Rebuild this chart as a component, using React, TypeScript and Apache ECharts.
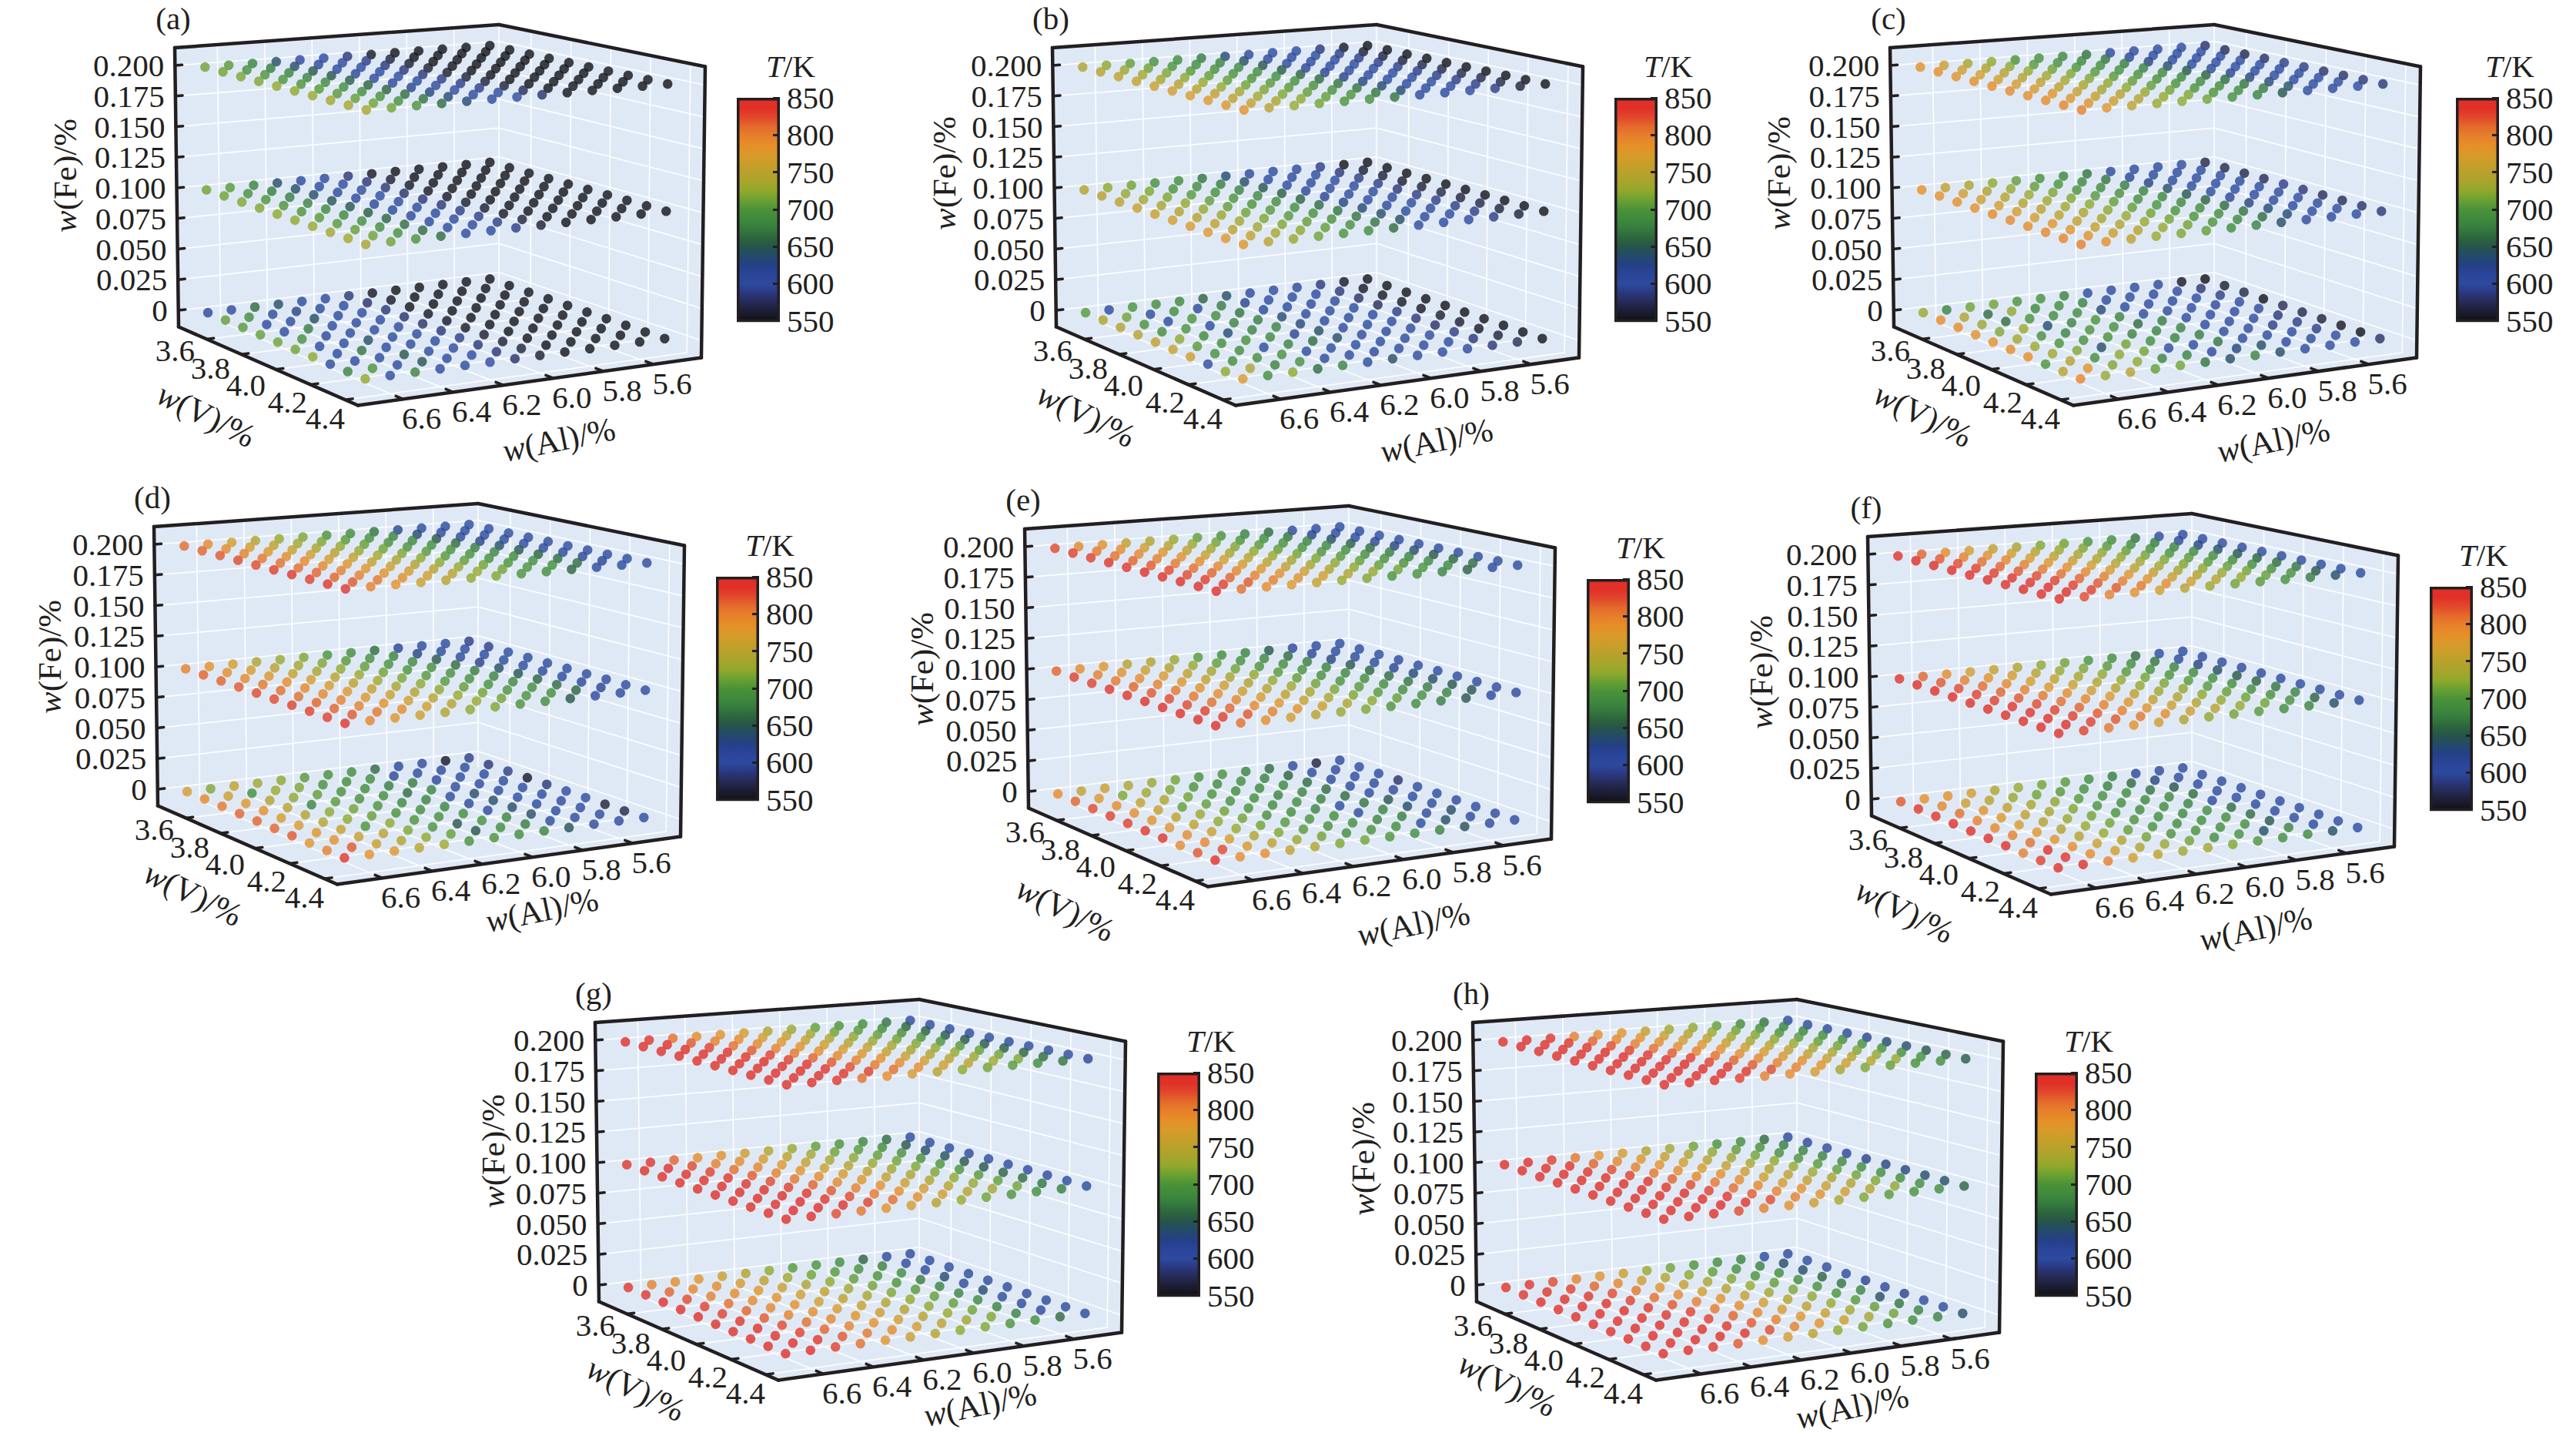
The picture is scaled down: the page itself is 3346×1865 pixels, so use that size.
import React, { useEffect, useRef } from "react";
import * as echarts from "echarts";

const alValues = [6.7, 6.6, 6.5, 6.4, 6.3, 6.2, 6.1, 6.0, 5.9, 5.8, 5.7, 5.6, 5.5];
const vValues = [3.5, 3.6, 3.7, 3.8, 3.9, 4.0, 4.1, 4.2, 4.3, 4.4];
const feLevels = [0, 0.1, 0.2];
const alTicks = [6.6, 6.4, 6.2, 6.0, 5.8, 5.6];
const vTicks = [3.6, 3.8, 4.0, 4.2, 4.4];
const feTicks = [0, 0.025, 0.05, 0.075, 0.1, 0.125, 0.15, 0.175, 0.2];
const feTickLabels = ["0", "0.025", "0.050", "0.075", "0.100", "0.125", "0.150", "0.175", "0.200"];
const panelNames = ["(a)", "(b)", "(c)", "(d)", "(e)", "(f)", "(g)", "(h)"];

// Rows run over V = 3.5 ... 4.4, columns over Al = 6.7 ... 5.5; values are T in K.
const a000 = [
[610,605,665,640,610,605,585,555,550,550,550,550,550],
[710,690,605,630,610,600,580,555,550,550,550,550,550],
[705,605,605,640,605,600,585,550,550,550,550,550,550],
[710,605,675,605,605,605,580,555,550,550,550,550,550],
[715,695,610,605,600,605,580,555,550,550,550,550,550],
[715,605,605,640,605,600,585,555,550,550,550,550,550],
[725,605,670,605,605,600,590,560,550,550,550,550,550],
[605,605,605,650,605,600,585,560,550,550,550,550,550],
[680,700,605,650,605,600,585,565,550,550,550,550,550],
[725,605,680,605,605,600,580,560,550,550,550,550,550]];
const a010 = [
[715,705,680,640,605,605,585,555,550,550,550,550,550],
[715,695,675,640,605,600,585,560,550,550,550,550,550],
[720,700,675,640,605,600,585,555,550,550,550,550,550],
[720,700,680,645,610,600,580,555,550,550,550,550,550],
[725,700,685,650,610,605,585,555,550,550,550,550,550],
[725,705,685,655,610,605,585,560,550,550,550,550,550],
[730,705,690,660,610,605,590,560,550,550,550,550,550],
[735,710,690,665,610,605,590,555,550,550,550,550,550],
[735,715,695,665,605,605,590,565,550,550,550,550,550],
[740,715,700,665,605,605,590,560,550,550,550,550,550]];
const a020 = [
[715,705,680,640,610,605,585,555,550,550,550,550,550],
[715,695,675,640,610,605,590,565,550,550,550,550,550],
[720,700,680,650,610,605,585,560,550,550,550,550,550],
[720,700,680,650,610,605,585,560,550,550,550,550,550],
[725,700,685,655,610,605,585,560,550,550,550,550,550],
[725,705,690,660,610,605,590,565,550,550,550,550,550],
[730,705,690,660,620,605,590,565,550,550,550,550,550],
[735,710,695,665,630,605,590,565,550,550,550,550,550],
[735,715,695,670,635,605,600,575,550,550,550,550,550],
[740,715,700,665,635,605,600,580,550,550,550,550,550]];
const b000 = [
[705,605,700,690,685,660,640,610,605,605,585,555,550],
[740,715,605,690,610,675,620,605,600,605,585,555,550],
[745,695,605,700,690,670,610,605,605,605,580,555,550],
[750,690,700,605,680,675,635,605,600,605,575,555,550],
[755,725,685,635,680,680,635,605,605,605,590,555,550],
[760,705,690,695,685,620,640,605,605,605,585,560,550],
[765,695,690,605,680,665,640,605,605,605,580,560,550],
[605,690,690,695,605,605,605,605,605,600,590,555,550],
[725,740,680,695,605,605,605,605,600,600,585,565,550],
[775,690,725,665,680,605,640,605,605,600,585,575,550]];
const b010 = [
[745,725,715,695,690,670,635,610,605,605,590,550,550],
[750,730,720,700,690,675,640,610,605,600,585,560,550],
[755,735,720,705,695,680,650,610,605,605,590,565,550],
[760,740,725,710,700,685,655,615,605,605,590,560,550],
[765,745,730,710,700,690,660,620,605,605,585,565,550],
[770,750,730,715,705,690,665,630,605,605,590,570,550],
[775,755,735,720,705,695,670,635,605,605,590,565,550],
[775,755,735,720,710,695,670,640,605,605,590,570,550],
[780,760,740,725,710,695,670,640,605,605,590,565,550],
[780,750,730,715,700,690,665,605,605,605,590,565,550]];
const b020 = [
[745,725,710,695,690,675,635,610,605,605,585,555,550],
[750,730,715,700,690,680,640,610,605,600,590,560,550],
[755,735,720,705,695,685,650,610,605,605,590,565,550],
[760,740,725,710,700,690,655,615,605,605,590,565,550],
[765,745,730,710,700,690,660,620,605,605,590,570,550],
[770,750,730,715,705,695,665,625,605,605,590,570,550],
[775,755,735,720,705,695,670,630,605,605,590,570,550],
[775,755,735,720,710,695,670,635,605,605,590,570,550],
[780,760,740,725,710,700,670,635,605,605,590,570,550],
[785,750,730,715,700,695,670,605,605,605,590,565,550]];
const c000 = [
[730,680,715,715,700,695,680,605,605,600,605,555,550],
[790,745,665,725,685,690,680,605,600,605,600,585,560],
[790,730,665,700,690,690,635,600,605,605,600,590,570],
[785,720,730,635,680,700,680,605,605,600,610,600,550],
[785,735,695,680,700,695,665,675,605,605,600,605,575],
[790,730,700,695,695,680,680,680,605,605,600,585,570],
[790,735,720,640,715,690,680,675,605,600,590,590,565],
[700,745,690,725,715,605,605,670,605,605,605,590,555],
[750,785,720,725,680,680,610,630,640,610,605,600,550],
[795,730,750,710,715,670,640,680,640,605,600,600,580]];
const c010 = [
[785,755,740,725,710,695,685,670,610,605,605,600,570],
[785,770,745,730,710,700,685,670,615,605,605,600,570],
[785,770,750,730,720,700,690,675,630,605,605,600,570],
[785,770,750,735,720,705,695,680,640,605,605,600,575],
[790,775,755,735,725,710,695,685,650,605,605,605,590],
[790,775,755,740,725,710,700,685,660,615,605,605,585],
[790,780,760,740,730,715,700,690,665,630,605,600,575],
[795,780,760,745,730,715,700,690,670,635,605,600,575],
[795,785,765,750,730,715,700,685,665,635,605,600,580],
[800,785,755,730,720,710,690,680,640,605,605,600,585]];
const c020 = [
[785,765,740,725,700,695,685,670,610,605,605,605,580],
[785,770,745,725,705,695,685,670,615,605,605,600,575],
[780,770,750,730,715,700,690,675,630,605,605,600,570],
[785,770,750,735,720,705,695,680,640,605,605,600,580],
[790,775,755,735,720,705,695,685,650,610,605,605,590],
[790,775,755,740,725,710,695,685,660,620,605,605,590],
[790,780,760,740,725,710,700,690,665,630,605,605,580],
[790,780,760,745,730,715,700,690,670,635,605,605,580],
[795,785,765,750,730,720,700,690,675,640,605,600,585],
[800,780,755,730,725,715,695,680,650,605,605,600,585]];
const d000 = [
[770,720,755,735,725,705,695,690,665,610,605,555,590],
[795,765,690,730,720,695,690,690,610,605,605,605,585],
[805,780,745,725,710,695,690,675,675,610,605,605,590],
[815,785,750,680,705,695,690,665,680,605,605,605,555],
[815,775,745,725,715,700,685,680,605,640,605,600,585],
[815,775,750,725,710,695,690,680,605,640,605,605,600],
[820,780,760,700,725,700,695,690,610,640,605,605,600],
[780,785,760,750,720,700,650,695,680,640,605,605,565],
[800,820,765,745,725,710,650,690,675,605,605,600,570],
[835,785,780,750,735,695,700,690,680,645,605,605,605]];
const d010 = [
[800,785,770,745,730,720,700,690,665,620,605,605,590],
[815,790,775,755,735,720,705,695,680,630,605,605,590],
[815,795,780,760,740,725,710,695,685,650,610,605,600],
[820,805,790,770,750,730,715,700,690,665,625,605,605],
[825,810,795,775,755,735,720,705,695,675,640,605,605],
[825,810,795,780,760,740,725,705,695,680,650,605,605],
[830,815,800,780,765,745,725,710,695,685,660,610,605],
[830,815,800,785,770,750,730,715,700,690,665,615,605],
[830,820,805,790,770,750,730,715,700,690,660,620,605],
[835,795,780,765,745,725,720,700,690,650,610,605,605]];
const d020 = [
[810,790,770,745,730,720,700,690,670,620,605,605,600],
[815,795,775,755,735,720,705,695,680,635,605,605,600],
[820,800,780,760,740,725,710,695,685,650,610,605,600],
[825,805,790,770,750,730,715,700,690,665,625,605,605],
[825,810,795,775,755,735,720,705,695,675,640,605,605],
[830,810,795,780,760,740,725,705,695,680,650,605,605],
[835,815,800,780,765,745,725,710,695,685,660,610,605],
[830,815,800,785,770,750,730,715,700,690,665,615,605],
[835,820,805,790,770,750,730,715,700,690,665,620,605],
[835,800,785,765,750,725,720,700,690,660,605,605,605]];
const e000 = [
[790,760,765,745,730,715,695,695,680,665,605,565,605],
[815,780,720,735,720,700,690,690,680,660,605,605,600],
[825,790,760,745,715,700,690,685,685,665,605,605,605],
[830,790,760,710,710,695,690,680,680,665,605,605,580],
[830,785,755,730,715,700,690,690,680,665,605,605,605],
[835,780,755,725,715,695,690,680,605,670,650,605,605],
[835,790,765,730,715,705,700,690,605,680,640,605,605],
[790,795,770,745,720,705,695,690,680,675,605,640,605],
[820,825,780,755,730,715,690,695,690,605,640,605,605],
[840,790,790,760,745,720,715,700,690,680,645,605,605]];
const e010 = [
[815,790,780,750,745,730,705,690,680,650,610,605,600],
[830,800,785,765,750,730,710,695,685,665,615,605,600],
[830,805,790,775,755,735,715,700,690,675,630,605,600],
[835,815,800,780,760,740,725,705,695,680,650,605,605],
[835,820,805,785,770,745,730,710,695,685,660,620,605],
[840,825,805,790,770,750,735,715,700,690,665,635,605],
[840,825,810,795,775,755,740,720,705,690,670,640,605],
[840,830,815,795,780,760,740,720,705,690,675,650,605],
[840,830,820,800,785,765,745,725,710,695,680,650,605],
[840,810,790,770,750,730,720,700,690,675,650,605,605]];
const e020 = [
[825,795,785,755,745,730,710,695,680,665,610,605,605],
[830,805,790,770,750,730,715,700,690,670,625,605,600],
[830,810,795,780,755,735,720,705,695,680,640,605,600],
[835,815,800,785,765,740,725,710,695,685,655,615,605],
[835,820,805,790,770,750,730,715,700,690,665,630,605],
[840,825,810,795,775,755,735,720,705,690,675,640,605],
[840,825,815,795,780,760,740,725,710,695,680,650,605],
[840,830,815,800,785,765,745,725,710,695,685,660,605],
[840,830,820,800,785,770,745,730,715,700,685,665,605],
[840,810,790,775,760,730,720,700,695,680,660,605,605]];
const f000 = [
[820,785,785,770,745,730,715,705,690,675,610,605,605],
[835,795,765,750,730,715,705,695,680,665,630,605,605],
[835,810,785,755,740,725,705,695,690,670,650,605,605],
[840,800,780,755,740,720,700,690,685,685,665,605,605],
[840,795,775,750,730,715,700,690,690,680,610,605,605],
[840,800,780,745,730,715,700,690,685,690,665,605,605],
[840,810,780,750,730,710,700,690,690,690,665,605,605],
[800,840,790,765,745,715,700,695,690,690,650,605,605],
[830,835,790,770,745,730,715,690,695,640,680,610,605],
[840,840,800,770,755,735,735,720,700,690,685,640,605]];
const f010 = [
[835,815,790,770,760,745,725,715,700,690,665,605,605],
[840,820,800,785,770,750,730,720,705,690,670,610,605],
[840,825,810,795,775,755,740,725,705,695,680,630,605],
[840,830,815,800,780,765,745,730,715,700,685,640,605],
[840,830,820,805,790,770,750,730,720,705,690,650,605],
[840,835,825,810,795,775,755,735,725,705,690,660,605],
[840,835,830,815,800,780,760,745,725,710,690,670,605],
[840,840,830,820,800,785,765,745,730,715,695,680,605],
[840,840,830,820,805,790,770,750,730,715,695,660,605],
[840,830,805,785,770,745,725,715,705,690,680,640,605]];
const f020 = [
[835,815,790,775,760,740,720,715,700,690,670,605,605],
[840,820,800,785,770,750,730,720,705,690,675,610,605],
[840,825,810,795,775,755,740,725,710,695,680,630,605],
[840,830,815,800,780,765,745,730,715,700,685,640,605],
[840,830,820,805,790,770,750,735,720,705,690,650,605],
[840,835,825,810,795,775,755,735,720,705,690,660,605],
[840,835,830,815,800,780,760,740,725,710,690,665,605],
[840,840,830,820,800,785,765,745,730,715,695,670,605],
[840,840,830,820,805,790,770,750,730,710,695,650,605],
[840,825,800,785,770,750,730,715,705,695,675,640,605]];
const g000 = [
[835,800,790,780,765,745,725,705,700,690,660,605,605],
[835,815,795,790,775,755,735,715,705,695,680,605,605],
[840,825,800,790,780,765,745,725,710,700,690,605,605],
[840,830,810,790,785,770,755,735,715,700,675,635,605],
[840,830,815,795,785,770,755,740,720,705,680,605,605],
[840,835,820,800,790,775,760,745,725,710,680,635,605],
[840,840,825,810,795,780,765,745,725,710,685,605,605],
[840,840,830,815,800,785,770,750,730,715,680,605,605],
[840,840,835,820,805,790,770,755,735,720,680,610,605],
[840,840,830,810,780,760,745,725,720,700,690,665,610]];
const g010 = [
[835,835,815,790,785,765,745,730,710,700,685,665,605],
[840,840,825,800,790,775,755,735,715,705,690,650,605],
[840,840,830,810,795,780,760,740,725,710,695,640,605],
[840,840,835,820,800,785,765,750,730,715,695,645,605],
[840,840,835,825,805,790,775,755,735,720,700,650,605],
[840,840,840,830,815,795,780,760,740,720,700,650,605],
[840,840,840,835,820,800,785,765,745,725,705,660,605],
[840,840,840,835,825,805,790,770,750,730,710,665,605],
[840,840,840,835,830,810,790,770,750,735,715,670,605],
[840,840,825,805,785,770,745,730,715,700,690,675,605]];
const g020 = [
[840,835,810,790,785,770,745,730,710,700,690,670,605],
[840,840,820,800,790,775,755,735,715,705,690,660,605],
[840,840,830,810,795,780,760,745,725,710,695,655,605],
[840,840,835,820,800,785,765,750,730,715,700,650,605],
[840,840,835,830,805,790,775,755,735,720,700,650,605],
[840,840,840,830,815,795,780,760,740,725,705,650,605],
[840,840,840,835,820,800,785,765,745,725,710,655,605],
[840,840,840,835,825,805,790,770,750,730,715,660,605],
[840,840,840,835,830,810,790,770,755,735,720,665,605],
[840,840,835,810,790,770,750,725,715,705,690,670,615]];
const h000 = [
[835,835,825,800,785,765,730,715,700,690,680,605,605],
[835,835,830,815,795,775,750,725,710,695,680,640,605],
[840,840,835,825,805,785,760,740,720,700,690,640,605],
[840,840,840,830,810,790,770,750,730,710,690,660,600],
[840,840,840,835,820,800,785,760,735,720,695,670,620],
[840,840,840,835,830,805,790,770,745,725,700,680,610],
[840,840,840,835,830,815,795,775,755,730,705,640,620],
[840,840,840,840,835,820,800,780,760,735,710,670,600],
[840,840,840,840,835,825,800,785,765,740,715,680,605],
[840,840,835,820,790,770,750,725,715,700,690,680,640]];
const h010 = [
[840,840,830,805,785,770,745,735,715,700,690,665,605],
[840,840,835,815,795,780,760,745,725,710,695,675,610],
[840,840,835,825,800,785,770,750,735,715,695,680,605],
[840,840,840,830,805,790,775,760,740,725,700,680,615],
[840,840,840,835,815,795,785,765,745,730,705,685,625],
[840,840,840,835,825,805,790,770,755,735,710,690,630],
[840,840,840,840,830,810,795,775,760,740,715,690,630],
[840,840,840,840,835,820,800,785,765,745,720,690,640],
[840,840,840,840,835,825,800,785,770,745,725,690,640],
[840,840,840,825,800,785,765,740,720,705,695,690,660]];
const h020 = [
[840,840,835,800,790,780,755,735,725,710,690,670,605],
[840,840,835,815,795,785,765,745,730,715,695,680,605],
[840,840,835,825,800,790,770,755,735,720,700,680,610],
[840,840,840,830,810,790,780,760,740,725,705,690,610],
[840,840,840,835,820,800,785,765,750,730,710,690,620],
[840,840,840,835,830,810,790,775,755,735,715,695,635],
[840,840,840,840,830,815,795,780,760,740,720,695,640],
[840,840,840,840,835,820,800,785,765,745,725,695,650],
[840,840,840,840,835,825,800,785,770,750,730,695,660],
[840,840,840,830,800,790,770,740,720,710,695,690,655]];

const panelTables = [
  [a000, a010, a020], [b000, b010, b020], [c000, c010, c020], [d000, d010, d020],
  [e000, e010, e020], [f000, f010, f020], [g000, g010, g020], [h000, h010, h020],
];

const barTicks = [550, 600, 650, 700, 750, 800, 850];
const tempStops = [
  "#111118", "#1c1d33", "#262a55", "#2a3880", "#2c4a9e", "#2a4599", "#254088", "#234a6c", "#26544a",
  "#2c663c", "#367c3e", "#3f8a3c", "#4a9238", "#68a033", "#90a82c", "#a6a52c", "#b8a12c", "#c99e2a",
  "#d89a2a", "#e68e28", "#e6802a", "#e46a2b", "#e2482b", "#e03028", "#e03028",
];

// Layout: left of each box, top of each box, offsets of its axis titles.
const boxLeft = [227, 1367, 2455, 200, 1331, 2426, 773, 1913];
const boxTop = [32, 32, 32, 654, 657, 667, 1298, 1298];
const barShift = [0, 0, 5, 0, 0, 0, 0, 0];
const feTitleAt = [[-143, 196], [-141, 193], [-145, 193], [-136, 199], [-134, 212], [-139, 206], [-133, 197], [-143, 207]];
const vTitleAt = [[41, 507], [44, 507], [43, 507], [51, 507], [53, 524], [48, 516], [53, 506], [45, 500]];
const alTitleAt = [[499, 539], [499, 540], [498, 540], [504, 528], [505, 543], [504, 539], [500, 526], [493, 529]];
const vLabelShift = [[-41, 15], [-40, 18], [-39, 20], [-30, 22], [-26, 24]];
const BOX_W = 689;
const BOX_H = 495;
const AL_RANGE = [6.78, 5.41];
const V_RANGE = [3.438, 4.474];
const FE_RANGE = [-0.0135, 0.2145];
// Box corners as [alIndex][vIndex][feIndex] in box pixels.
const CORNERS = [
  [[[5, 392.5], [0, 30]], [[238, 494.5], [240, 92]]],
  [[[421, 342], [421, 0]], [[684, 432.5], [689, 54.5]]],
];
const INK = "#231f20";
const SERIF = "Liberation Serif";
const FONT = 41;
const TITLE_FONT = 43;

function project(al: number, v: number, fe: number): number[] {
  const u = (al - AL_RANGE[0]) / (AL_RANGE[1] - AL_RANGE[0]);
  const b = (v - V_RANGE[0]) / (V_RANGE[1] - V_RANGE[0]);
  const w = (fe - FE_RANGE[0]) / (FE_RANGE[1] - FE_RANGE[0]);
  const out = [0, 0];
  for (let k = 0; k < 2; k++) {
    const c = CORNERS;
    const a0 = c[0][0][0][k] * (1 - w) + c[0][0][1][k] * w;
    const a1 = c[0][1][0][k] * (1 - w) + c[0][1][1][k] * w;
    const a2 = c[1][0][0][k] * (1 - w) + c[1][0][1][k] * w;
    const a3 = c[1][1][0][k] * (1 - w) + c[1][1][1][k] * w;
    out[k] = (a0 * (1 - b) + a1 * b) * (1 - u) + (a2 * (1 - b) + a3 * b) * u;
  }
  return out;
}

const richAt = (size: number) => ({
  i: { fontStyle: "italic", fontFamily: SERIF, fontSize: size, fill: INK },
  n: { fontFamily: SERIF, fontSize: size, fill: INK },
});

function boxRenderer(p: number) {
  return (_params: any, api: any) => {
    const at = (x: number, y: number) => api.coord([x, y]);
    const P = (al: number, v: number, fe: number) => {
      const q = project(al, v, fe);
      return at(q[0], q[1]);
    };
    const [A0, A1] = AL_RANGE;
    const [V0, V1] = V_RANGE;
    const [F0, F1] = FE_RANGE;
    const kids: any[] = [];
    const poly = (pts: number[][]) =>
      kids.push({ type: "polygon", shape: { points: pts }, style: { fill: "#dfe9f6", stroke: "#dfe9f6", lineWidth: 1 } });
    const seg = (a: number[], b: number[], stroke: string, lineWidth: number) =>
      kids.push({ type: "line", shape: { x1: a[0], y1: a[1], x2: b[0], y2: b[1] }, style: { stroke, lineWidth, lineCap: "round" } });
    const text = (x: number, y: number, str: string, align = "center", rotation = 0, size = FONT) =>
      kids.push({
        type: "text", x, y, rotation,
        style: { text: str, rich: richAt(size), fontFamily: SERIF, fontSize: size, fill: INK, align, verticalAlign: "middle" },
      });
    poly([P(A0, V0, F1), P(A1, V0, F1), P(A1, V0, F0), P(A0, V0, F0)]);
    poly([P(A1, V0, F1), P(A1, V1, F1), P(A1, V1, F0), P(A1, V0, F0)]);
    poly([P(A0, V0, F0), P(A1, V0, F0), P(A1, V1, F0), P(A0, V1, F0)]);
    const W = "#ffffff";
    alTicks.forEach((al) => {
      seg(P(al, V0, F0), P(al, V1, F0), W, 1.5);
      seg(P(al, V0, F0), P(al, V0, F1), W, 1.5);
    });
    vTicks.forEach((v) => {
      seg(P(A0, v, F0), P(A1, v, F0), W, 1.5);
      seg(P(A1, v, F0), P(A1, v, F1), W, 1.5);
    });
    feTicks.forEach((fe) => {
      seg(P(A0, V0, fe), P(A1, V0, fe), W, 1.5);
      seg(P(A1, V0, fe), P(A1, V1, fe), W, 1.5);
    });
    seg(P(A1, V0, F0), P(A1, V0, F1), W, 1.5);
    const frame = [P(A0, V0, F1), P(A1, V0, F1), P(A1, V1, F1), P(A1, V1, F0), P(A0, V1, F0), P(A0, V0, F0), P(A0, V0, F1)];
    for (let i = 0; i + 1 < frame.length; i++) seg(frame[i], frame[i + 1], INK, 4.5);
    const dAl = (A1 - A0) * 0.022;
    const dV = (V1 - V0) * 0.04;
    feTicks.forEach((fe, i) => {
      const e = P(A0, V0, fe);
      seg(e, P(A0 + dAl, V0, fe), INK, 3.5);
      text(e[0] - 14, e[1], feTickLabels[i], "right");
    });
    vTicks.forEach((v, i) => {
      const e = P(A0, v, F0);
      seg(e, P(A0 + dAl, v, F0), INK, 3.5);
      text(e[0] + vLabelShift[i][0], e[1] + vLabelShift[i][1], v.toFixed(1));
    });
    alTicks.forEach((al) => {
      const e = P(al, V1, F0);
      seg(e, P(al, V1 - dV, F0), INK, 3.5);
      text(e[0] + 24, e[1] + 25, al.toFixed(1));
    });
    let t = at(feTitleAt[p][0], feTitleAt[p][1]);
    text(t[0], t[1], "{i|w}{n|(Fe)/%}", "center", Math.PI / 2, TITLE_FONT);
    t = at(vTitleAt[p][0], vTitleAt[p][1]);
    text(t[0], t[1], "{i|w}{n|(V)/%}", "center", -0.46, TITLE_FONT);
    t = at(alTitleAt[p][0], alTitleAt[p][1]);
    text(t[0], t[1], "{i|w}{n|(Al)/%}", "center", 0.2, TITLE_FONT);
    t = at(-2, -8);
    text(t[0], t[1], panelNames[p]);
    t = at(800 + barShift[p], 54);
    text(t[0], t[1], "{i|T}{n|/K}");
    return { type: "group", children: kids };
  };
}

function buildOption() {
  const grid: any[] = [];
  const xAxis: any[] = [];
  const yAxis: any[] = [];
  const series: any[] = [];
  const scatterIdx: number[] = [];
  panelNames.forEach((_n, p) => {
    grid.push({ left: boxLeft[p], top: boxTop[p], width: BOX_W, height: BOX_H });
    xAxis.push({ type: "value", gridIndex: p, min: 0, max: BOX_W, show: false });
    yAxis.push({ type: "value", gridIndex: p, min: 0, max: BOX_H, inverse: true, show: false });
  });
  panelNames.forEach((_n, p) => {
    const g = panelNames.length + p;
    grid.push({ left: boxLeft[p] + 730 + barShift[p], top: boxTop[p] + 95, width: 56, height: 289.5 });
    xAxis.push({ type: "category", gridIndex: g, data: ["T"], show: false });
    yAxis.push({
      type: "value", gridIndex: g, min: barTicks[0], max: barTicks[barTicks.length - 1], interval: 50,
      position: "right", z: 5, splitLine: { show: false }, axisLine: { show: false },
      axisTick: { show: true, inside: true, length: 9, lineStyle: { color: INK, width: 3 } },
      axisLabel: { margin: 9, color: INK, fontFamily: SERIF, fontSize: FONT },
    });
    series.push({
      type: "bar", xAxisIndex: g, yAxisIndex: g, barWidth: "100%", silent: true,
      data: [barTicks[barTicks.length - 1]],
      itemStyle: {
        borderColor: INK, borderWidth: 3.5,
        color: new echarts.graphic.LinearGradient(0, 1, 0, 0,
          tempStops.map((c, i) => ({ offset: i / (tempStops.length - 1), color: c }))),
      },
    });
  });
  panelNames.forEach((_n, p) => {
    series.push({
      type: "custom", xAxisIndex: p, yAxisIndex: p, data: [[0, 0]], z: 1, silent: true,
      renderItem: boxRenderer(p),
    });
    const pts: number[][] = [];
    panelTables[p].forEach((table, f) => {
      table.forEach((row, r) => {
        row.forEach((T, c) => {
          const q = project(alValues[c], vValues[r], feLevels[f]);
          pts.push([q[0], q[1], T]);
        });
      });
    });
    scatterIdx.push(series.length);
    series.push({
      type: "scatter", xAxisIndex: p, yAxisIndex: p, data: pts, symbol: "circle", symbolSize: 12.5,
      z: 3, silent: true, encode: { x: 0, y: 1 },
    });
  });
  return {
    animation: false,
    backgroundColor: "#ffffff",
    grid, xAxis, yAxis, series,
    visualMap: {
      type: "continuous", show: false, min: barTicks[0], max: barTicks[barTicks.length - 1], dimension: 2,
      seriesIndex: scatterIdx, inRange: { color: tempStops },
    },
  };
}

export default function App() {
  const ref = useRef<HTMLDivElement>(null);
  useEffect(() => {
    document.body.style.margin = "0";
    const chart = echarts.init(ref.current!, undefined, { renderer: "svg" });
    chart.setOption(buildOption() as any);
    return () => chart.dispose();
  }, []);
  return <div ref={ref} style={{ width: 3346, height: 1865 }} />;
}
